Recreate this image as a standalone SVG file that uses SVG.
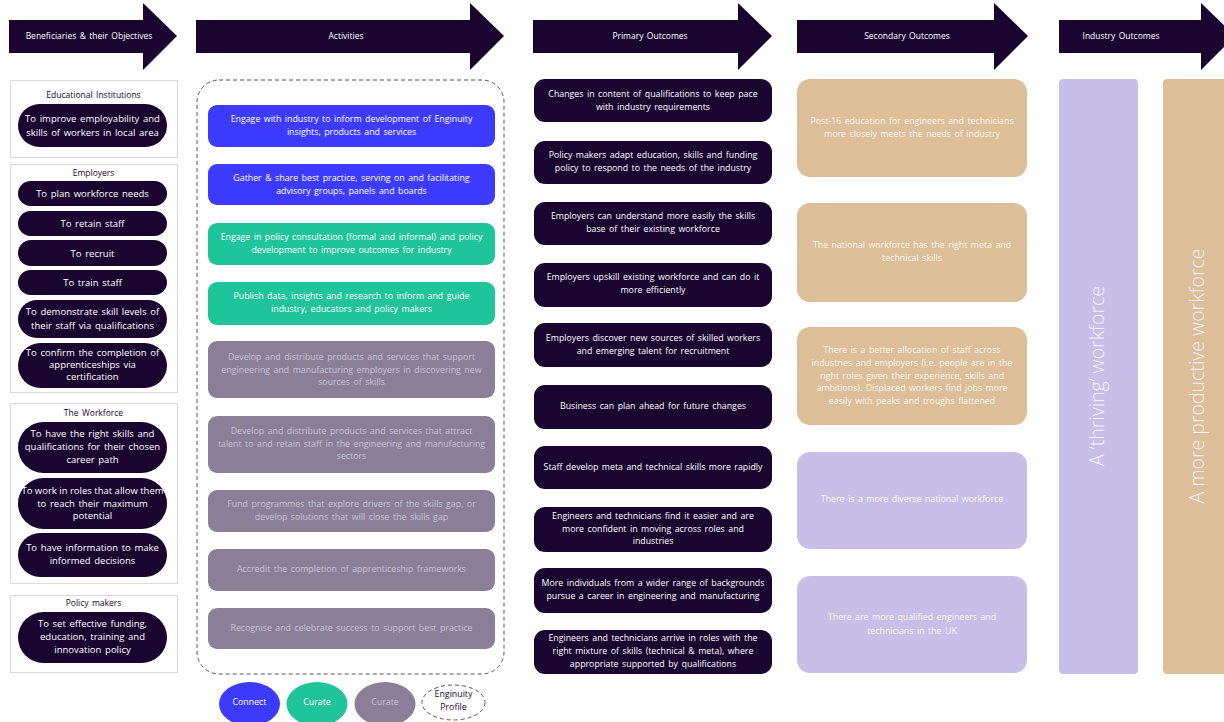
<svg xmlns="http://www.w3.org/2000/svg" width="1224" height="722" viewBox="0 0 1224 722">
<style>
text{font-family:"Open Sans","Liberation Sans",sans-serif;text-anchor:middle;word-spacing:1.2px}
.hdr{fill:#1a0530}
.ht{fill:#ffffff;font-size:8.5px}
.grp{fill:#ffffff;stroke:#d9d9d9;stroke-width:1}
.gt{fill:#1a0530;font-size:8.5px}
.pill{fill:#1a0530}
.pt{fill:#ffffff;font-size:9.5px}
.blue{fill:#3d3bff}
.green{fill:#20c49a}
.grey{fill:#8a7f97}
.at{fill:#ffffff;font-size:8.8px}
.gat{fill:#c9c1d3;font-size:8.8px}
.prim{fill:#1a0530}
.prt{fill:#ffffff;font-size:8.8px}
.tan{fill:#dcbe98}
.lav{fill:#c8bfe8}
.st{fill:#fbf6ef;font-size:8.8px}
.big{fill:#f4f0fa;font-size:19.5px;font-weight:300;word-spacing:0}
.dash{fill:none;stroke:#555555;stroke-width:1;stroke-dasharray:4 3}
</style>
<rect width="1224" height="722" fill="#ffffff"/>

<g id="header-beneficiaries">
<polygon class="hdr" points="9,20 143,20 143,3 177,36 143,70 143,53 9,53"/>
<text class="ht" x="89" y="39">Beneficiaries &amp; their Objectives</text>
</g>
<g id="header-activities">
<polygon class="hdr" points="196,20 470,20 470,3 504,36 470,70 470,53 196,53"/>
<text class="ht" x="346" y="39">Activities</text>
</g>
<g id="header-primary">
<polygon class="hdr" points="533,20 738,20 738,3 772,36 738,70 738,53 533,53"/>
<text class="ht" x="650" y="39">Primary Outcomes</text>
</g>
<g id="header-secondary">
<polygon class="hdr" points="797,20 994,20 994,3 1028,36 994,70 994,53 797,53"/>
<text class="ht" x="907" y="39">Secondary Outcomes</text>
</g>
<g id="header-industry">
<polygon class="hdr" points="1059,20 1201,20 1201,3 1235,36 1201,70 1201,53 1059,53"/>
<text class="ht" x="1121" y="39">Industry Outcomes</text>
</g>

<g id="educational-institutions">
<rect class="grp" x="10.5" y="80.5" width="167" height="77"/>
<text class="gt" x="93.5" y="98">Educational Institutions</text>
<rect class="pill" x="18" y="104" width="149" height="43" rx="21.5"/>
<text class="pt" x="92.5" y="121.5">To improve employability and</text>
<text class="pt" x="92.5" y="135.5">skills of workers in local area</text>
</g>

<g id="employers">
<rect class="grp" x="10.5" y="164.5" width="167" height="228"/>
<text class="gt" x="93.5" y="175.5">Employers</text>
<rect class="pill" x="18" y="181" width="149" height="25" rx="12.5"/>
<text class="pt" x="92.5" y="197">To plan workforce needs</text>
<rect class="pill" x="18" y="211" width="149" height="25" rx="12.5"/>
<text class="pt" x="92.5" y="227">To retain staff</text>
<rect class="pill" x="18" y="240" width="149" height="26" rx="13"/>
<text class="pt" x="92.5" y="256.5">To recruit</text>
<rect class="pill" x="18" y="270" width="149" height="25" rx="12.5"/>
<text class="pt" x="92.5" y="286">To train staff</text>
<rect class="pill" x="18" y="300" width="149" height="38" rx="19"/>
<text class="pt" x="92.5" y="315">To demonstrate skill levels of</text>
<text class="pt" x="92.5" y="329">their staff via qualifications</text>
<rect class="pill" x="18" y="343" width="149" height="45" rx="22.5"/>
<text class="pt" x="92.5" y="355.5">To confirm the completion of</text>
<text class="pt" x="92.5" y="367.5">apprenticeships via</text>
<text class="pt" x="92.5" y="380">certification</text>
</g>

<g id="the-workforce">
<rect class="grp" x="10.5" y="403.5" width="167" height="180"/>
<text class="gt" x="93.5" y="415.5">The Workforce</text>
<rect class="pill" x="18" y="422" width="149" height="51" rx="25.5"/>
<text class="pt" x="92.5" y="436.5">To have the right skills and</text>
<text class="pt" x="92.5" y="449.5">qualifications for their chosen</text>
<text class="pt" x="92.5" y="462.5">career path</text>
<rect class="pill" x="18" y="478" width="149" height="51" rx="25.5"/>
<text class="pt" x="92.5" y="494" style="word-spacing:0">To work in roles that allow them</text>
<text class="pt" x="92.5" y="506.5">to reach their maximum</text>
<text class="pt" x="92.5" y="519">potential</text>
<rect class="pill" x="18" y="533" width="149" height="44" rx="22"/>
<text class="pt" x="92.5" y="550.5">To have information to make</text>
<text class="pt" x="92.5" y="564">informed decisions</text>
</g>

<g id="policy-makers">
<rect class="grp" x="10.5" y="595.5" width="167" height="77"/>
<text class="gt" x="93.5" y="605.5">Policy makers</text>
<rect class="pill" x="18" y="612" width="149" height="51" rx="25.5"/>
<text class="pt" x="92.5" y="627">To set effective funding,</text>
<text class="pt" x="92.5" y="640">education, training and</text>
<text class="pt" x="92.5" y="653">innovation policy</text>
</g>

<g id="activities-container">
<rect class="dash" x="197" y="80" width="307" height="594" rx="22"/>
</g>

<g id="act-1">
<rect class="blue" x="208" y="105" width="287" height="42" rx="9"/>
<text class="at" x="351.5" y="122">Engage with industry to inform development of Enginuity</text>
<text class="at" x="351.5" y="134.5">insights, products and services</text>
</g>
<g id="act-2">
<rect class="blue" x="208" y="164" width="287" height="41" rx="9"/>
<text class="at" x="351.5" y="181">Gather &amp; share best practice, serving on and facilitating</text>
<text class="at" x="351.5" y="193.5">advisory groups, panels and boards</text>
</g>
<g id="act-3">
<rect class="green" x="208" y="223" width="287" height="42" rx="9"/>
<text class="at" x="351.5" y="240">Engage in policy consultation (formal and informal) and policy</text>
<text class="at" x="351.5" y="253">development to improve outcomes for industry</text>
</g>
<g id="act-4">
<rect class="green" x="208" y="282" width="287" height="43" rx="9"/>
<text class="at" x="351.5" y="299">Publish data, insights and research to inform and guide</text>
<text class="at" x="351.5" y="312">industry, educators and policy makers</text>
</g>
<g id="act-5">
<rect class="grey" x="208" y="341" width="287" height="57" rx="9"/>
<text class="gat" x="351.5" y="360">Develop and distribute products and services that support</text>
<text class="gat" x="351.5" y="372.5">engineering and manufacturing employers in discovering new</text>
<text class="gat" x="351.5" y="385">sources of skills</text>
</g>
<g id="act-6">
<rect class="grey" x="208" y="416" width="287" height="57" rx="9"/>
<text class="gat" x="351.5" y="434">Develop and distribute products and services that attract</text>
<text class="gat" x="351.5" y="447">talent to and retain staff in the engineering and manufacturing</text>
<text class="gat" x="351.5" y="459">sectors</text>
</g>
<g id="act-7">
<rect class="grey" x="208" y="490" width="287" height="42" rx="9"/>
<text class="gat" x="351.5" y="507">Fund programmes that explore drivers of the skills gap, or</text>
<text class="gat" x="351.5" y="520">develop solutions that will close the skills gap</text>
</g>
<g id="act-8">
<rect class="grey" x="208" y="549" width="287" height="42" rx="9"/>
<text class="gat" x="351.5" y="572">Accredit the completion of apprenticeship frameworks</text>
</g>
<g id="act-9">
<rect class="grey" x="208" y="608" width="287" height="41" rx="9"/>
<text class="gat" x="351.5" y="631">Recognise and celebrate success to support best practice</text>
</g>

<g id="legend-connect">
<ellipse class="blue" cx="249.5" cy="704" rx="30.5" ry="22"/>
<text class="at" x="249.5" y="705">Connect</text>
</g>
<g id="legend-curate-green">
<ellipse class="green" cx="317" cy="704" rx="30.5" ry="22"/>
<text class="at" x="317" y="705">Curate</text>
</g>
<g id="legend-curate-grey">
<ellipse class="grey" cx="385" cy="704" rx="30.5" ry="22"/>
<text class="gat" x="385" y="705">Curate</text>
</g>
<g id="legend-profile">
<ellipse class="dash" cx="453.5" cy="702.5" rx="31.5" ry="17.5"/>
<text class="gt" x="453.5" y="697" style="font-size:8.8px">Enginuity</text>
<text class="gt" x="453.5" y="710" style="font-size:8.8px">Profile</text>
</g>

<g id="prim-1">
<rect class="prim" x="534" y="79" width="238" height="43" rx="11"/>
<text class="prt" x="653" y="97">Changes in content of qualifications to keep pace</text>
<text class="prt" x="653" y="110">with industry requirements</text>
</g>
<g id="prim-2">
<rect class="prim" x="534" y="141" width="238" height="43" rx="11"/>
<text class="prt" x="653" y="158">Policy makers adapt education, skills and funding</text>
<text class="prt" x="653" y="171">policy to respond to the needs of the industry</text>
</g>
<g id="prim-3">
<rect class="prim" x="534" y="202" width="238" height="43" rx="11"/>
<text class="prt" x="653" y="219">Employers can understand more easily the skills</text>
<text class="prt" x="653" y="232">base of their existing workforce</text>
</g>
<g id="prim-4">
<rect class="prim" x="534" y="263" width="238" height="44" rx="11"/>
<text class="prt" x="653" y="280">Employers upskill existing workforce and can do it</text>
<text class="prt" x="653" y="293">more efficiently</text>
</g>
<g id="prim-5">
<rect class="prim" x="534" y="323" width="238" height="44" rx="11"/>
<text class="prt" x="653" y="341">Employers discover new sources of skilled workers</text>
<text class="prt" x="653" y="354">and emerging talent for recruitment</text>
</g>
<g id="prim-6">
<rect class="prim" x="534" y="385" width="238" height="44" rx="11"/>
<text class="prt" x="653" y="409">Business can plan ahead for future changes</text>
</g>
<g id="prim-7">
<rect class="prim" x="534" y="446" width="238" height="43" rx="11"/>
<text class="prt" x="653" y="470">Staff develop meta and technical skills more rapidly</text>
</g>
<g id="prim-8">
<rect class="prim" x="534" y="507" width="238" height="45" rx="11"/>
<text class="prt" x="653" y="519">Engineers and technicians find it easier and are</text>
<text class="prt" x="653" y="531.5">more confident in moving across roles and</text>
<text class="prt" x="653" y="544">industries</text>
</g>
<g id="prim-9">
<rect class="prim" x="534" y="568" width="238" height="45" rx="11"/>
<text class="prt" x="653" y="586">More individuals from a wider range of backgrounds</text>
<text class="prt" x="653" y="599">pursue a career in engineering and manufacturing</text>
</g>
<g id="prim-10">
<rect class="prim" x="534" y="630" width="238" height="44" rx="11"/>
<text class="prt" x="653" y="641">Engineers and technicians arrive in roles with the</text>
<text class="prt" x="653" y="654">right mixture of skills (technical &amp; meta), where</text>
<text class="prt" x="653" y="666.5">appropriate supported by qualifications</text>
</g>

<g id="sec-1">
<rect class="tan" x="797" y="79" width="230" height="98" rx="13"/>
<text class="st" x="912" y="124">Post-16 education for engineers and technicians</text>
<text class="st" x="912" y="137">more closely meets the needs of industry</text>
</g>
<g id="sec-2">
<rect class="tan" x="797" y="203" width="230" height="99" rx="13"/>
<text class="st" x="912" y="248">The national workforce has the right meta and</text>
<text class="st" x="912" y="261">technical skills</text>
</g>
<g id="sec-3">
<rect class="tan" x="797" y="327" width="230" height="98" rx="13"/>
<text class="st" x="912" y="353">There is a better allocation of staff across</text>
<text class="st" x="912" y="366">industries and employers (i.e. people are in the</text>
<text class="st" x="912" y="378.5">right roles given their experience, skills and</text>
<text class="st" x="912" y="391">ambitions). Displaced workers find jobs more</text>
<text class="st" x="912" y="404">easily with peaks and troughs flattened</text>
</g>
<g id="sec-4">
<rect class="lav" x="797" y="452" width="230" height="97" rx="13"/>
<text class="st" x="912" y="502">There is a more diverse national workforce</text>
</g>
<g id="sec-5">
<rect class="lav" x="797" y="576" width="230" height="97" rx="13"/>
<text class="st" x="912" y="620">There are more qualified engineers and</text>
<text class="st" x="912" y="634">technicians in the UK</text>
</g>

<g id="ind-thriving">
<rect class="lav" x="1059" y="79" width="79" height="595" rx="4"/>
<text class="big" transform="translate(1104,376) rotate(-90)" x="0" y="0">A ‘thriving’ workforce</text>
</g>
<g id="ind-productive">
<rect class="tan" x="1163" y="79" width="75" height="595" rx="4"/>
<text class="big" transform="translate(1204,376) rotate(-90)" x="0" y="0">A more productive workforce</text>
</g>

<g id="connectors"/>
</svg>
